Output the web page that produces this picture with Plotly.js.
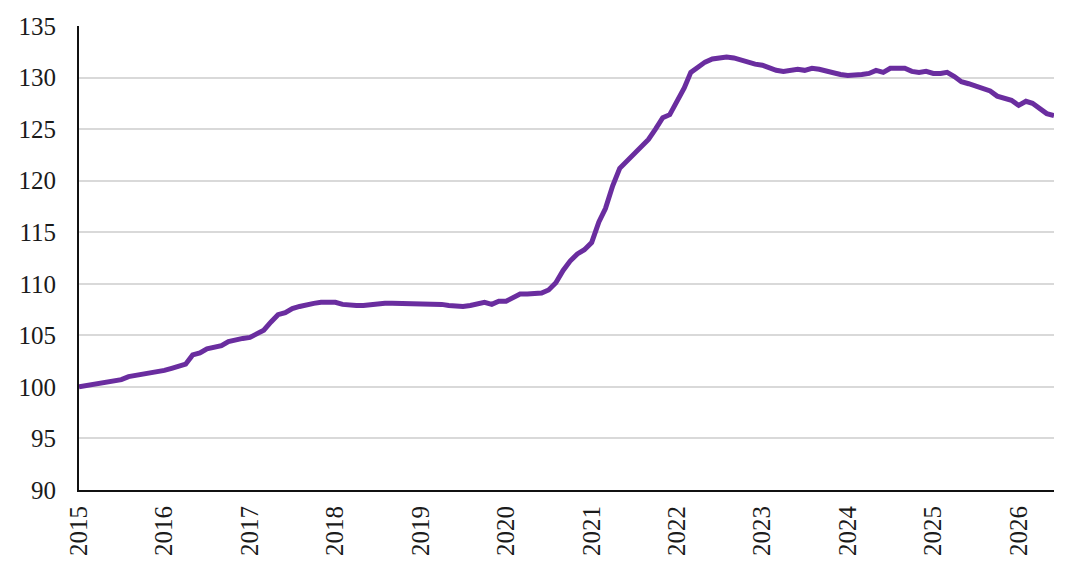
<!DOCTYPE html>
<html>
<head>
<meta charset="utf-8">
<script src="https://cdn.plot.ly/plotly-3.0.1.min.js"></script>
<style>
  html, body { margin: 0; padding: 0; background: #fff; }
  #chart { width: 1080px; height: 581px; }
</style>
</head>
<body>
<div id="chart"></div>
<script>
// monthly index values, Jan 2015 .. Jun 2026
var startYear = 2015;
var years = ["2015", "2016", "2017", "2018", "2019", "2020",
             "2021", "2022", "2023", "2024", "2025", "2026"];

var index2015 = [100.0, 100.1, 100.2, 100.3, 100.4, 100.6, 100.7, 101.0, 101.1, 101.3, 101.4, 101.5];
var index2016 = [101.6, 101.8, 102.0, 102.2, 103.1, 103.3, 103.7, 103.8, 104.0, 104.4, 104.6, 104.7];
var index2017 = [104.8, 105.2, 105.5, 106.3, 107.0, 107.2, 107.6, 107.8, 108.0, 108.1, 108.2, 108.2];
var index2018 = [108.2, 108.0, 107.9, 107.9, 107.9, 108.0, 108.1, 108.1, 108.1, 108.1, 108.1, 108.1];
var index2019 = [108.1, 108.0, 108.0, 108.0, 107.9, 107.8, 107.8, 107.9, 108.1, 108.2, 108.0, 108.3];
var index2020 = [108.3, 108.6, 109.0, 109.0, 109.0, 109.1, 109.4, 110.1, 111.3, 112.2, 112.9, 113.3];
var index2021 = [114.0, 116.0, 117.3, 119.5, 121.2, 121.9, 122.5, 123.3, 124.0, 125.0, 126.1, 126.4];
var index2022 = [127.6, 129.0, 130.5, 131.0, 131.5, 131.8, 131.9, 132.0, 131.9, 131.7, 131.4, 131.3];
var index2023 = [131.2, 130.9, 130.7, 130.6, 130.7, 130.8, 130.7, 130.9, 130.8, 130.6, 130.5, 130.3];
var index2024 = [130.2, 130.2, 130.3, 130.4, 130.7, 130.5, 130.9, 130.9, 130.9, 130.6, 130.5, 130.6];
var index2025 = [130.4, 130.4, 130.5, 130.1, 129.6, 129.4, 129.2, 128.9, 128.7, 128.2, 128.0, 127.8];
var index2026 = [127.3, 127.7, 127.5, 127.0, 126.5, 126.3];

var yTicks = [90, 95, 100, 105, 110, 115, 120, 125, 130, 135];

var values = [].concat(index2015, index2016, index2017, index2018, index2019, index2020,
                       index2021, index2022, index2023, index2024, index2025, index2026);

// month dates for each value
var dates = values.map(function (v, i) {
    var y = startYear + Math.floor(i / 12);
    var m = (i % 12) + 1;
    return y + "-" + (m < 10 ? "0" + m : m) + "-01";
});

var trace = {
    x: dates,
    y: values,
    type: "scatter",
    mode: "lines",
    line: { color: "#6a2d9f", width: 5 },
    hoverinfo: "x+y"
};

var layout = {
    width: 1080,
    height: 581,
    margin: { l: 79, r: 26, t: 26, b: 91 },
    paper_bgcolor: "#ffffff",
    plot_bgcolor: "#ffffff",
    showlegend: false,
    font: { family: "Liberation Serif, serif", size: 25, color: "#1a1a1a" },
    xaxis: {
        type: "date",
        range: [dates[0], dates[dates.length - 1]],
        tickvals: years.map(function (y) { return y + "-01-01"; }),
        ticktext: years,
        tickangle: -90,
        ticks: "",
        ticklabelstandoff: 4,
        showgrid: false,
        showline: true,
        linecolor: "#111111",
        linewidth: 2,
        zeroline: false,
        fixedrange: true
    },
    yaxis: {
        range: [90, 135],
        tickvals: yTicks,
        ticks: "",
        ticklabelstandoff: 16,
        showgrid: true,
        gridcolor: "#d9d9d9",
        gridwidth: 2,
        showline: true,
        linecolor: "#111111",
        linewidth: 2,
        zeroline: false,
        fixedrange: true
    }
};

Plotly.newPlot("chart", [trace], layout, { displayModeBar: false, staticPlot: true });
</script>
</body>
</html>
